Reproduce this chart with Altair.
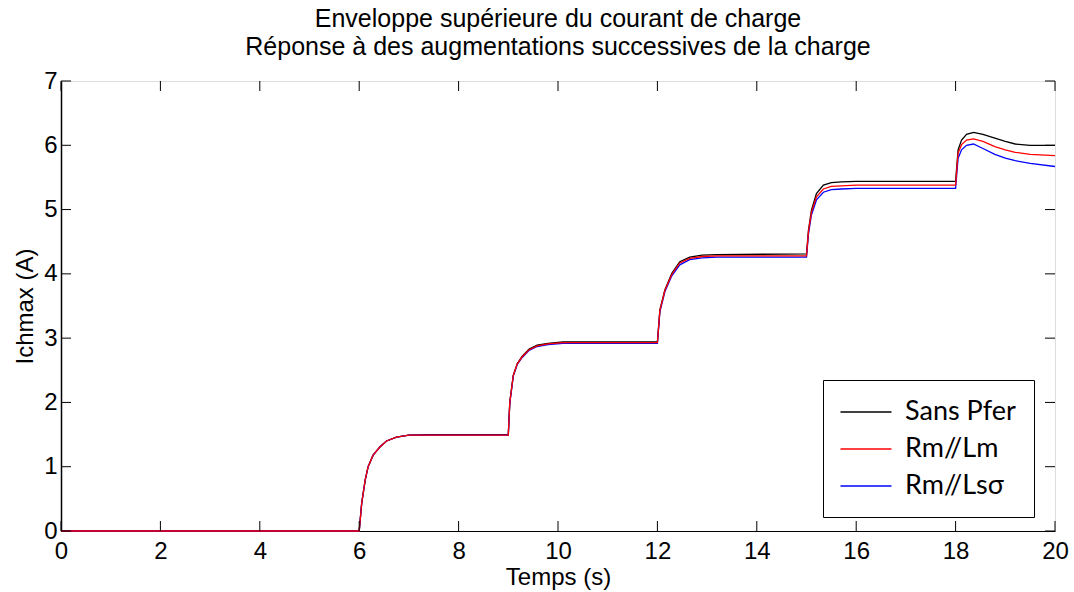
import altair as alt
import pandas as pd

# Series names and line colours (legend order)
SERIES = ["Sans Pfer", "Rm//Lm", "Rm//Lsσ"]
COLORS = ["#000000", "#ff0000", "#0000ff"]

# Sample instants (s), shared by the three series
TIME = [0, 6.0, 6.05, 6.12, 6.18, 6.28, 6.42, 6.55, 6.75, 7.0, 7.4, 9.0,
        9.03, 9.10, 9.18, 9.28, 9.42, 9.58, 9.8, 10.1, 12.0,
        12.05, 12.15, 12.29, 12.45, 12.65, 12.9, 13.2, 15.0,
        15.04, 15.10, 15.20, 15.34, 15.5, 15.7, 16.0, 18.0,
        18.05, 18.12, 18.22, 18.36, 18.55, 18.79, 19.0, 19.2, 19.5, 20.0]

# Upper envelope of the load current (A)
V_SANS = [0, 0, 0.43, 0.79, 1.00, 1.18, 1.31, 1.40, 1.46, 1.49, 1.50, 1.50,
          2.00, 2.42, 2.60, 2.72, 2.83, 2.89, 2.92, 2.94, 2.94,
          3.44, 3.75, 4.01, 4.19, 4.26, 4.29, 4.30, 4.31,
          4.68, 4.99, 5.25, 5.38, 5.42, 5.43, 5.44, 5.44,
          5.93, 6.08, 6.17, 6.20, 6.17, 6.11, 6.06, 6.02, 6.00, 6.00]
V_RM_LM = [0, 0, 0.43, 0.79, 1.00, 1.18, 1.31, 1.40, 1.46, 1.49, 1.49, 1.49,
           2.00, 2.42, 2.60, 2.71, 2.82, 2.88, 2.91, 2.93, 2.93,
           3.43, 3.74, 3.99, 4.17, 4.24, 4.27, 4.28, 4.28,
           4.66, 4.96, 5.20, 5.32, 5.36, 5.37, 5.38, 5.38,
           5.88, 6.01, 6.08, 6.10, 6.06, 5.98, 5.93, 5.89, 5.86, 5.84]
V_RM_LSS = [0, 0, 0.43, 0.79, 1.00, 1.18, 1.31, 1.40, 1.46, 1.49, 1.49, 1.49,
            1.99, 2.41, 2.59, 2.70, 2.81, 2.87, 2.90, 2.92, 2.92,
            3.41, 3.72, 3.97, 4.14, 4.22, 4.25, 4.26, 4.26,
            4.62, 4.92, 5.15, 5.27, 5.31, 5.32, 5.33, 5.33,
            5.80, 5.93, 6.00, 6.02, 5.95, 5.86, 5.80, 5.76, 5.72, 5.67]

TICK_X = list(range(0, 21, 2))
TICK_Y = list(range(0, 8))

rows = []
for name, vals in zip(SERIES, [V_SANS, V_RM_LM, V_RM_LSS]):
    for t, v in zip(TIME, vals):
        rows.append({"t": t, "i": v, "serie": name})
df = pd.DataFrame(rows)

W, H = 994, 450
FONT = "Liberation Sans"
TICK_LEN = 10

x_scale = alt.Scale(domain=[0, 20], nice=False, zero=False)
y_scale = alt.Scale(domain=[0, 7], nice=False)

x_axis = alt.Axis(values=TICK_X, title="Temps (s)", ticks=False, grid=False,
                  labelFont=FONT, labelFontSize=24, labelColor="black",
                  labelPadding=8, labelFlush=False, labelOverlap=False,
                  titleFont=FONT, titleFontSize=24, titleFontWeight="normal",
                  titleColor="black", titlePadding=2,
                  domainColor="black", domainWidth=1)
y_axis = alt.Axis(values=TICK_Y, title="Ichmax (A)", ticks=False, grid=False,
                  labelFont=FONT, labelFontSize=24, labelColor="black",
                  labelPadding=4, labelFlush=False, labelOverlap=False,
                  titleFont=FONT, titleFontSize=24, titleFontWeight="normal",
                  titleColor="black", titlePadding=6,
                  domainColor="black", domainWidth=1.5)

color = alt.Color(
    "serie:N",
    scale=alt.Scale(domain=SERIES, range=COLORS),
    sort=SERIES,
    title=None,
    legend=alt.Legend(orient="none", legendX=762, legendY=299,
                      direction="vertical", symbolType="M-2,0H2",
                      symbolSize=650, symbolStrokeWidth=1.6,
                      symbolOffset=11,
                      labelFont="Lato", labelFontSize=27, labelColor="black",
                      labelOffset=25, labelLimit=300, padding=18,
                      rowPadding=10, strokeColor="black", fillColor="white"),
)


def series_line(name):
    return (
        alt.Chart(df)
        .transform_filter(alt.datum.serie == name)
        .mark_line(strokeWidth=1.3, clip=False)
        .encode(
            x=alt.X("t:Q", scale=x_scale, axis=x_axis),
            y=alt.Y("i:Q", scale=y_scale, axis=y_axis),
            color=color,
        )
    )


# Inward ticks on all four sides of the box
tx = pd.DataFrame({"t": TICK_X})
ty = pd.DataFrame({"i": TICK_Y})
tick_style = dict(color="black", strokeWidth=1)
ticks_bottom = alt.Chart(tx).mark_rule(**tick_style).encode(
    x=alt.X("t:Q", scale=x_scale, axis=x_axis),
    y=alt.value(H), y2=alt.value(H - TICK_LEN))
ticks_top = alt.Chart(tx).mark_rule(**tick_style).encode(
    x=alt.X("t:Q", scale=x_scale, axis=x_axis),
    y=alt.value(0), y2=alt.value(TICK_LEN))
ticks_left = alt.Chart(ty).mark_rule(**tick_style).encode(
    y=alt.Y("i:Q", scale=y_scale, axis=y_axis),
    x=alt.value(0), x2=alt.value(TICK_LEN))
ticks_right = alt.Chart(ty).mark_rule(**tick_style).encode(
    y=alt.Y("i:Q", scale=y_scale, axis=y_axis),
    x=alt.value(W), x2=alt.value(W - TICK_LEN))

chart = (
    alt.layer(
        series_line("Sans Pfer"),
        series_line("Rm//Lsσ"),
        series_line("Rm//Lm"),
        ticks_bottom, ticks_top, ticks_left, ticks_right,
    )
    .properties(
        width=W,
        height=H,
        autosize=alt.AutoSizeParams(type="none"),
        padding={"left": 61, "top": 81, "right": 19, "bottom": 61},
        title=alt.TitleParams(
            text=["Enveloppe supérieure du courant de charge",
                  "Réponse à des augmentations successives de la charge"],
            font=FONT, fontSize=25, fontWeight="normal", color="black",
            anchor="middle", lineHeight=28, baseline="bottom", offset=-4,
            dy=12,
        ),
    )
    .configure_view(stroke="black", strokeWidth=1)
    .configure_legend(strokeWidth=1.5)
    .configure(background="white")
)

chart.save("out.html", embed_options={"renderer": "svg", "actions": False})
